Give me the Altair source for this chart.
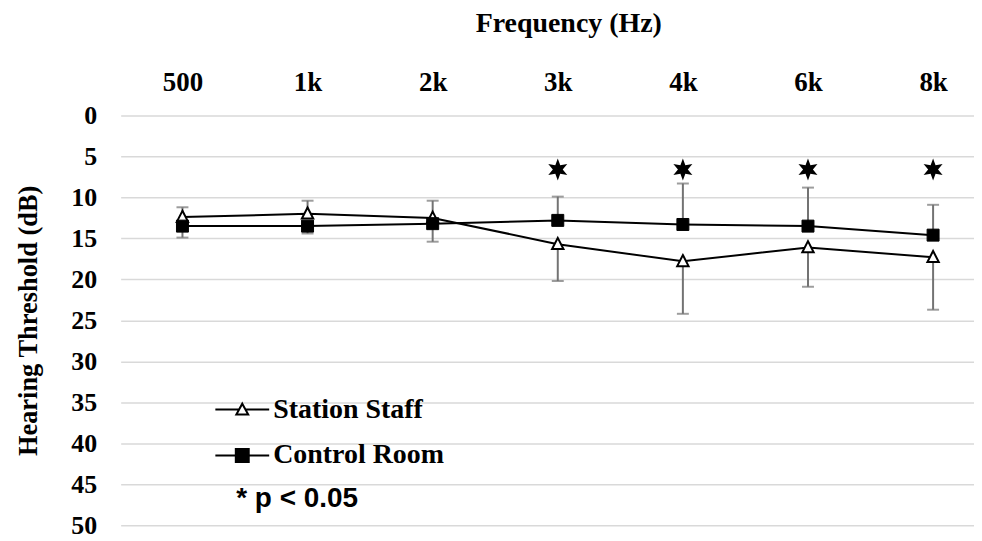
import math
import altair as alt
import pandas as pd

# ---- data ----
freq_labels = ["500", "1k", "2k", "3k", "4k", "6k", "8k"]
series_names = ["Station Staff", "Control Room"]
station_mean = [12.4, 12.0, 12.5, 15.7, 17.8, 16.1, 17.3]
station_tip = [11.2, 10.4, 10.4, 20.2, 24.2, 20.9, 23.7]
control_mean = [13.5, 13.5, 13.2, 12.8, 13.3, 13.5, 14.6]
control_tip = [14.9, 14.4, 15.4, 9.9, 8.3, 8.8, 10.9]
star_freqs = ["3k", "4k", "6k", "8k"]
star_level = [6.6, 6.6, 6.6, 6.6]
y_ticks = [0, 5, 10, 15, 20, 25, 30, 35, 40, 45, 50]
note_text = ["* p < 0.05"]
note_at = [(0.43, 46.8)]  # (frequency index, dB)

rows = []
for i, f in enumerate(freq_labels):
    rows.append({"idx": i, "freq": f, "series": series_names[0],
                 "mean": station_mean[i], "tip": station_tip[i]})
    rows.append({"idx": i, "freq": f, "series": series_names[1],
                 "mean": control_mean[i], "tip": control_tip[i]})
df = pd.DataFrame(rows)
star_df = pd.DataFrame({"idx": [freq_labels.index(f) for f in star_freqs],
                        "level": star_level})
note_df = pd.DataFrame({"idx": [p[0] for p in note_at],
                        "level": [p[1] for p in note_at],
                        "text": note_text})

# ---- shapes ----
def star_path(n=6, inner=0.45):
    pts = []
    for k in range(2 * n):
        a = math.radians(-90 + k * 180 / n)
        r = 1 if k % 2 == 0 else inner
        pts.append(f"{r*math.cos(a):.3f},{r*math.sin(a):.3f}")
    return "M" + "L".join(pts) + "Z"

tri_path = "M0,-1.05L0.95,0.8L-0.95,0.8Z"
sq_path = "M-1,-1H1V1H-1Z"
leg_tri = "M-1.5,0L-0.18,0M0.18,0L1.5,0M0,-0.33L0.33,0.27L-0.33,0.27Z"
leg_sq = "M-1.5,0L1.5,0M-0.36,-0.36L0.36,-0.36L0.36,0.36L-0.36,0.36Z"

SERIF = "Liberation Serif"
label_expr = "[" + ",".join(f"'{l}'" for l in freq_labels) + "][datum.value]"

xscale = alt.Scale(domain=[-0.494, 6.327], nice=False, zero=False)
yscale = alt.Scale(domain=[0, 50], reverse=True, nice=False, zero=False)

xaxis = alt.Axis(orient="top", values=list(range(len(freq_labels))),
                 labelExpr=label_expr, grid=False, domain=False, ticks=False,
                 tickSize=0, labelPadding=25, labelBaseline="alphabetic",
                 title="Frequency (Hz)", titleX=449, titleY=-84,
                 titleAlign="center", titleBaseline="alphabetic",
                 titleFontSize=28, labelFontSize=27)
yaxis = alt.Axis(values=y_ticks, grid=True, gridColor="#d9d9d9", gridWidth=1.5,
                 domain=False, ticks=False, tickSize=0, labelPadding=24,
                 title="Hearing Threshold (dB)", titleX=-92, titleY=205.5,
                 titleAngle=270, titleAlign="center", titleBaseline="middle",
                 titleFontSize=26.5, labelFontSize=26)

X = alt.X("idx:Q", scale=xscale, axis=xaxis)
Y = alt.Y("mean:Q", scale=yscale, axis=yaxis)

base = alt.Chart(df)
err = base.mark_rule(color="#737373", strokeWidth=2).encode(x=X, y=Y, y2="tip:Q")
caps = base.mark_tick(orient="horizontal", color="#737373", thickness=2,
                      size=12).encode(x=X, y=alt.Y("tip:Q", scale=yscale))
lines = base.mark_line(color="black", strokeWidth=2).encode(
    x=X, y=Y, detail="series:N", order="idx:Q")
pts_station = base.transform_filter(alt.datum.series == series_names[0]).mark_point(
    shape=tri_path, size=144, filled=True, fill="white", stroke="black",
    strokeWidth=2, opacity=1).encode(x=X, y=Y)
pts_control = base.transform_filter(alt.datum.series == series_names[1]).mark_point(
    shape=sq_path, size=144, filled=True, fill="black", stroke="black",
    strokeWidth=1, opacity=1).encode(x=X, y=Y)
stars = alt.Chart(star_df).mark_point(
    shape=star_path(), size=484, filled=True, color="black", opacity=1).encode(
    x=alt.X("idx:Q", scale=xscale), y=alt.Y("level:Q", scale=yscale))
note = alt.Chart(note_df).mark_text(
    align="left", baseline="middle", font="Liberation Sans", fontWeight="bold",
    fontSize=28, color="black").encode(
    x=alt.X("idx:Q", scale=xscale), y=alt.Y("level:Q", scale=yscale), text="text:N")

leg = alt.Legend(title=None, orient="none", legendX=103, legendY=276, padding=0,
                 labelFont=SERIF, labelFontWeight="bold", labelFontSize=28,
                 labelColor="black", labelLimit=0, labelOffset=12,
                 symbolStrokeWidth=2, symbolSize=1296, symbolOpacity=1,
                 rowPadding=13)
legend_layer = base.transform_filter("false").mark_point(
    size=1296, filled=False, strokeWidth=2, opacity=1).encode(
    x=X, y=Y,
    shape=alt.Shape("series:N", scale=alt.Scale(domain=series_names,
                                                range=[leg_tri, leg_sq]), legend=leg),
    fill=alt.Fill("series:N", scale=alt.Scale(domain=series_names,
                                              range=["white", "black"]), legend=leg),
    stroke=alt.Stroke("series:N", scale=alt.Scale(domain=series_names,
                                                  range=["black", "black"]), legend=leg))

chart = alt.layer(err, caps, lines, pts_station, pts_control, stars, note,
                  legend_layer).properties(
    width=856, height=411,
    autosize=alt.AutoSizeParams(type="none"),
    padding={"left": 113, "top": 107, "right": 0, "bottom": 14},
    background="white",
).configure_view(stroke=None).configure_axis(
    labelFont=SERIF, labelFontWeight="bold", labelColor="black",
    titleFont=SERIF, titleFontWeight="bold", titleColor="black")

chart.save("out.html", embed_options={"renderer": "svg", "actions": False})
